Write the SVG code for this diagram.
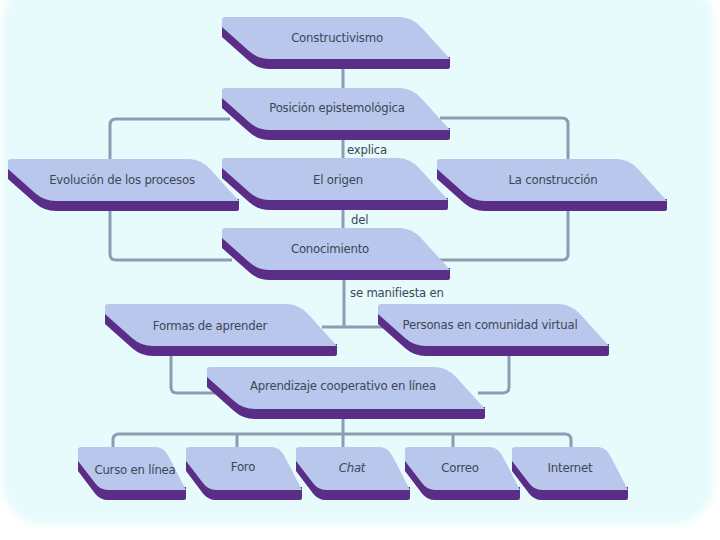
<svg xmlns="http://www.w3.org/2000/svg" width="720" height="540" viewBox="0 0 720 540">
<style>
.face{fill:#b8c7eb}
.side{fill:#5a2d86}
.lbl{font-family:"Liberation Sans Narrow","DejaVu Sans Condensed","Liberation Sans",sans-serif;font-size:13px;letter-spacing:-0.2px;fill:#3d4658;text-anchor:middle}
.edge{font-family:"Liberation Sans Narrow","DejaVu Sans Condensed","Liberation Sans",sans-serif;font-size:13px;letter-spacing:-0.2px;fill:#3d4658}
.conn{fill:none;stroke:#8d9cb3;stroke-width:3}
</style>
<defs>
<filter id="soft" x="-5%" y="-5%" width="110%" height="110%"><feGaussianBlur stdDeviation="3"/></filter>
</defs>
<rect width="720" height="540" fill="#ffffff"/>
<rect x="2" y="-20" width="712" height="545" rx="42" fill="#e8fbfc" filter="url(#soft)"/>

<g id="connectors">
<path class="conn" d="M343,66 V90"/>
<path class="conn" d="M230,119 H116 Q110,119 110,125 V254 Q110,260 116,260 H232"/>
<path class="conn" d="M440,118 H562 Q568,118 568,124 V254 Q568,260 562,260 H430"/>
<path class="conn" d="M343,138 V160"/>
<path class="conn" d="M343,208 V230"/>
<path class="conn" d="M344,278 V327 M322,327 H386"/>
<path class="conn" d="M171,353 V387 Q171,393 177,393 H220"/>
<path class="conn" d="M509,353 V387 Q509,393 503,393 H478"/>
<path class="conn" d="M343,415 V449 M113,449 V440 Q113,434 119,434 H565 Q571,434 571,440 V449 M237,434 V449 M453,434 V449"/>
</g>

<text class="edge" x="347" y="154">explica</text>
<text class="edge" x="351" y="224">del</text>
<text class="edge" x="350" y="297">se manifiesta en</text>

<g id="n-constructivismo" transform="translate(222,17)">
<path class="side" d="M0,6 L0,20 L27,44 Q36,52 48,52 L226,52 Q228,52 228,50 L228,40 L40,40 Z"/>
<path class="face" d="M0,3 Q0,0 3,0 L178,0 Q190,0 199.5,10.5 L228,42 L48,42 Q36,42 27,34 L0,10 Z"/>
<text class="lbl" x="115" y="25">Constructivismo</text>
</g>

<g id="n-posicion" transform="translate(222,88)">
<path class="side" d="M0,6 L0,20 L27,44 Q36,52 48,52 L226,52 Q228,52 228,50 L228,40 L40,40 Z"/>
<path class="face" d="M0,3 Q0,0 3,0 L178,0 Q190,0 199.5,10.5 L228,42 L48,42 Q36,42 27,34 L0,10 Z"/>
<text class="lbl" x="115" y="24">Posición epistemológica</text>
</g>

<g id="n-evolucion" transform="translate(8,159)">
<path class="side" d="M0,6 L0,20 L27,44 Q36,52 48,52 L229,52 Q231,52 231,50 L231,40 L40,40 Z"/>
<path class="face" d="M0,3 Q0,0 3,0 L181,0 Q193,0 202.5,10.5 L231,42 L48,42 Q36,42 27,34 L0,10 Z"/>
<text class="lbl" x="114" y="25">Evolución de los procesos</text>
</g>

<g id="n-origen" transform="translate(222,158)">
<path class="side" d="M0,6 L0,20 L27,44 Q36,52 48,52 L224,52 Q226,52 226,50 L226,40 L40,40 Z"/>
<path class="face" d="M0,3 Q0,0 3,0 L176,0 Q188,0 197.5,10.5 L226,42 L48,42 Q36,42 27,34 L0,10 Z"/>
<text class="lbl" x="116" y="26">El origen</text>
</g>

<g id="n-construccion" transform="translate(437,159)">
<path class="side" d="M0,6 L0,20 L27,44 Q36,52 48,52 L228,52 Q230,52 230,50 L230,40 L40,40 Z"/>
<path class="face" d="M0,3 Q0,0 3,0 L180,0 Q192,0 201.5,10.5 L230,42 L48,42 Q36,42 27,34 L0,10 Z"/>
<text class="lbl" x="116" y="25">La construcción</text>
</g>

<g id="n-conocimiento" transform="translate(222,228)">
<path class="side" d="M0,6 L0,20 L27,44 Q36,52 48,52 L226,52 Q228,52 228,50 L228,40 L40,40 Z"/>
<path class="face" d="M0,3 Q0,0 3,0 L178,0 Q190,0 199.5,10.5 L228,42 L48,42 Q36,42 27,34 L0,10 Z"/>
<text class="lbl" x="108" y="25">Conocimiento</text>
</g>

<g id="n-formas" transform="translate(105,304)">
<path class="side" d="M0,6 L0,20 L27,44 Q36,52 48,52 L230,52 Q232,52 232,50 L232,40 L40,40 Z"/>
<path class="face" d="M0,3 Q0,0 3,0 L182,0 Q194,0 203.5,10.5 L232,42 L48,42 Q36,42 27,34 L0,10 Z"/>
<text class="lbl" x="105" y="26">Formas de aprender</text>
</g>

<g id="n-personas" transform="translate(378,304)">
<path class="side" d="M0,6 L0,20 L27,44 Q36,52 48,52 L229,52 Q231,52 231,50 L231,40 L40,40 Z"/>
<path class="face" d="M0,3 Q0,0 3,0 L181,0 Q193,0 202.5,10.5 L231,42 L48,42 Q36,42 27,34 L0,10 Z"/>
<text class="lbl" x="112" y="25">Personas en comunidad virtual</text>
</g>

<g id="n-aprendizaje" transform="translate(207,367)">
<path class="side" d="M0,6 L0,20 L27,44 Q36,52 48,52 L276,52 Q278,52 278,50 L278,40 L40,40 Z"/>
<path class="face" d="M0,3 Q0,0 3,0 L228,0 Q240,0 249.5,10.5 L278,42 L48,42 Q36,42 27,34 L0,10 Z"/>
<text class="lbl" x="136" y="23">Aprendizaje cooperativo en línea</text>
</g>

<g id="n-curso" transform="translate(78,447)">
<path class="side" d="M0,8 L0,24 L17,46.4 Q22,53 30,53 L106,53 Q108,53 108,51 L108,40 L40,40 Z"/>
<path class="face" d="M0,3 Q0,0 3,0 L78,0 Q86,0 91.5,11 L108,43 L30,43 Q22,43 17,36 L0,14 Z"/>
<text class="lbl" x="57" y="27">Curso en línea</text>
</g>

<g id="n-foro" transform="translate(186,447)">
<path class="side" d="M0,8 L0,24 L17,46.4 Q22,53 30,53 L114,53 Q116,53 116,51 L116,40 L40,40 Z"/>
<path class="face" d="M0,3 Q0,0 3,0 L86,0 Q94,0 99.5,11 L116,43 L30,43 Q22,43 17,36 L0,14 Z"/>
<text class="lbl" x="57" y="24">Foro</text>
</g>

<g id="n-chat" transform="translate(296,447)">
<path class="side" d="M0,8 L0,24 L17,46.4 Q22,53 30,53 L112,53 Q114,53 114,51 L114,40 L40,40 Z"/>
<path class="face" d="M0,3 Q0,0 3,0 L84,0 Q92,0 97.5,11 L114,43 L30,43 Q22,43 17,36 L0,14 Z"/>
<text class="lbl" x="56" y="25" font-style="italic">Chat</text>
</g>

<g id="n-correo" transform="translate(405,447)">
<path class="side" d="M0,8 L0,24 L17,46.4 Q22,53 30,53 L113,53 Q115,53 115,51 L115,40 L40,40 Z"/>
<path class="face" d="M0,3 Q0,0 3,0 L85,0 Q93,0 98.5,11 L115,43 L30,43 Q22,43 17,36 L0,14 Z"/>
<text class="lbl" x="55" y="25">Correo</text>
</g>

<g id="n-internet" transform="translate(512,447)">
<path class="side" d="M0,8 L0,24 L17,46.4 Q22,53 30,53 L114,53 Q116,53 116,51 L116,40 L40,40 Z"/>
<path class="face" d="M0,3 Q0,0 3,0 L86,0 Q94,0 99.5,11 L116,43 L30,43 Q22,43 17,36 L0,14 Z"/>
<text class="lbl" x="58" y="25">Internet</text>
</g>
</svg>
